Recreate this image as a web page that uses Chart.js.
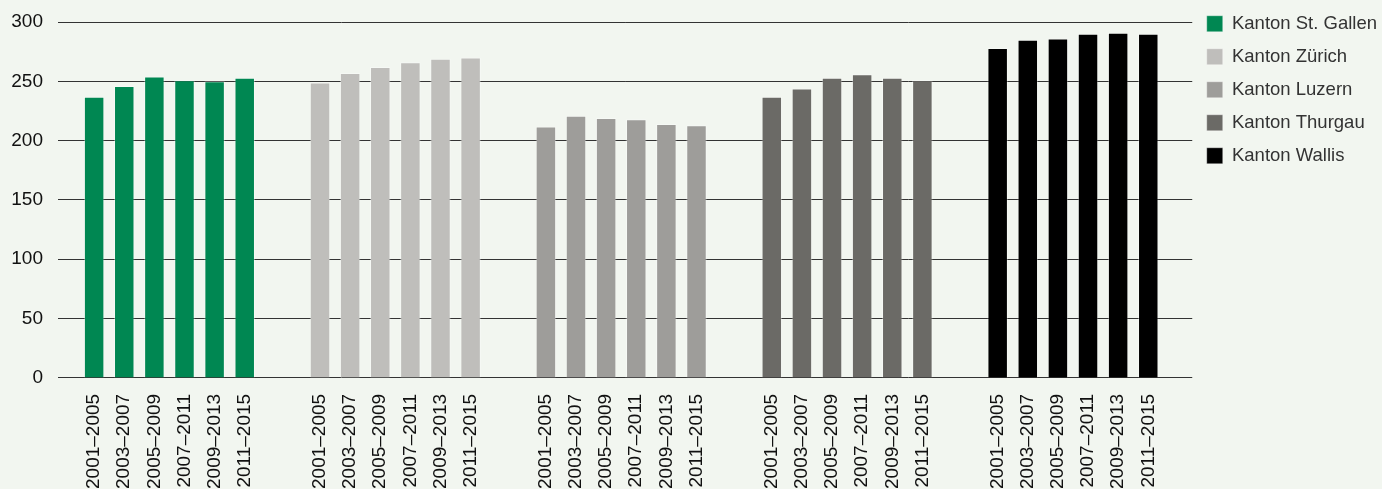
<!DOCTYPE html>
<html>
<head>
<meta charset="utf-8">
<script src="https://cdn.jsdelivr.net/npm/chart.js@4.4.1/dist/chart.umd.min.js"></script>
<style>
  html, body { margin: 0; padding: 0; background: #f2f6f0; overflow: hidden; }
  #wrap { width: 1382px; height: 497px; }
</style>
</head>
<body>
<div id="wrap"><canvas id="bar_chart"></canvas></div>
<script>
// periods shown under every group
var periods = ['2001–2005', '2003–2007', '2005–2009', '2007–2011', '2009–2013', '2011–2015'];
var cantons = ['Kanton St. Gallen', 'Kanton Zürich', 'Kanton Luzern', 'Kanton Thurgau', 'Kanton Wallis'];
var colors = ['#008752', '#bfbebb', '#9e9d9a', '#6b6a66', '#000000'];

var stGallen = [237, 246, 254, 251, 250, 253];
var zuerich  = [249, 257, 262, 266, 269, 270];
var luzern   = [212, 221, 219, 218, 214, 213];
var thurgau  = [237, 244, 253, 256, 253, 251];
var wallis   = [278, 285, 286, 290, 291, 290];

var yTicks = [0, 50, 100, 150, 200, 250, 300];

var series = [stGallen, zuerich, luzern, thurgau, wallis];
var groupStep = periods.length + 1.5; // empty space between cantons

var tickPositions = [];
var tickLabels = [];
var datasets = series.map(function (values, g) {
    return {
        label: cantons[g],
        backgroundColor: colors[g],
        borderColor: 'rgba(255,255,255,0.35)',
        borderWidth: 1,
        borderSkipped: 'bottom',
        data: values.map(function (v, i) {
            tickPositions.push(g * groupStep + i);
            tickLabels.push(periods[i]);
            return { x: g * groupStep + i, y: v };
        })
    };
});

var font = "'Liberation Sans', Arial, sans-serif";

var chart = new Chart(document.getElementById('bar_chart').getContext('2d'), {
    type: 'bar',
    data: { datasets: datasets },
    options: {
        responsive: true,
        maintainAspectRatio: false,
        animation: false,
        layout: { padding: { left: 10, top: 0, right: -5, bottom: 0 } },
        datasets: {
            bar: { grouped: false, categoryPercentage: 1, barPercentage: 0.68 }
        },
        plugins: {
            tooltip: { enabled: false },
            legend: {
                position: 'right',
                align: 'start',
                labels: {
                    boxWidth: 16,
                    boxHeight: 16,
                    padding: 14.5,
                    color: '#333',
                    font: { family: font, size: 18.5 }
                }
            }
        },
        scales: {
            x: {
                type: 'linear',
                offset: false,
                min: -1.2,
                max: (series.length - 1) * groupStep + periods.length - 1 + 1.46,
                grid: { display: false },
                border: { display: false },
                afterBuildTicks: function (scale) {
                    scale.ticks = tickPositions.map(function (p) { return { value: p }; });
                },
                ticks: {
                    autoSkip: false,
                    minRotation: 90,
                    maxRotation: 90,
                    padding: 8,
                    color: '#111',
                    font: { family: font, size: 19 },
                    callback: function (value, index) { return tickLabels[index]; }
                }
            },
            y: {
                min: 0,
                max: 300,
                afterBuildTicks: function (scale) {
                    scale.ticks = yTicks.map(function (v) { return { value: v }; });
                },
                afterFit: function (scale) {
                    scale.width = 48;
                    scale.paddingTop = 22;
                },
                grid: { color: '#333', lineWidth: 1, drawTicks: false },
                border: { display: false },
                ticks: {
                    padding: 15,
                    color: '#111',
                    font: { family: font, size: 19 }
                }
            }
        }
    }
});
</script>
</body>
</html>
